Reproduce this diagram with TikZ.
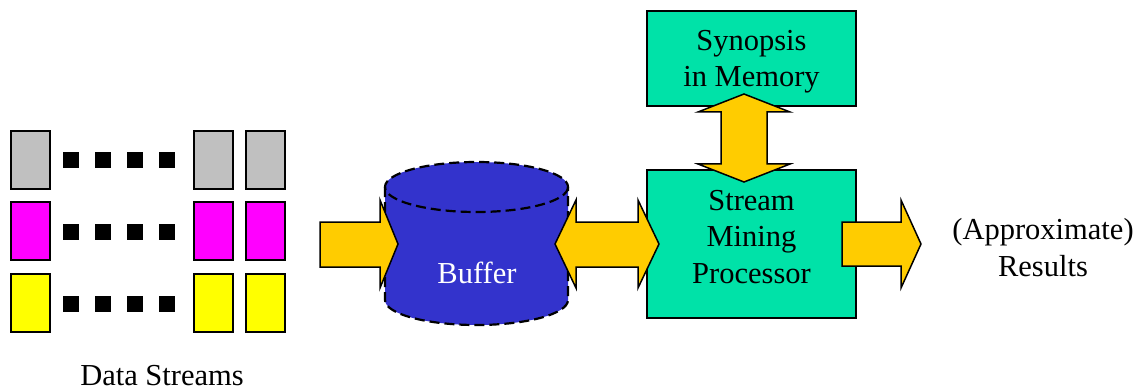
\documentclass[tikz,border=0pt]{standalone}
\usepackage{fontspec}
\setmainfont{Liberation Serif}
\definecolor{greenbox}{RGB}{0,226,168}
\definecolor{bufferblue}{RGB}{51,51,204}
\definecolor{arrowgold}{RGB}{255,204,0}
\definecolor{streamgray}{RGB}{192,192,192}
\definecolor{streampink}{RGB}{255,0,255}
\definecolor{streamyellow}{RGB}{255,255,0}
\tikzset{
  label text/.style={font=\fontsize{30.5}{36.5}\selectfont, align=center, inner sep=0pt, anchor=base},
  packet/.style={draw=black, line width=2pt, inner sep=0pt, minimum width=39pt, minimum height=58pt},
  gapdot/.style={fill=black, inner sep=0pt, minimum size=16pt},
  unitbox/.style={draw=black, line width=2pt, fill=greenbox, inner sep=0pt, minimum width=209pt},
  blockarrow/.style={draw=black, line width=1.5pt, fill=arrowgold, line join=miter},
  dashline/.style={draw=black, line width=2.2pt, dash pattern=on 10pt off 5pt}
}
\begin{document}
\begin{tikzpicture}[x=1pt, y=-1pt]
\useasboundingbox (0,0) rectangle (1147,390);

% incoming data streams: three rows of packets with gaps between
\foreach \row/\y/\col in {1/160/streamgray, 2/231/streampink, 3/303/streamyellow}{
  \node[packet, fill=\col] (p\row a) at (30.5,\y) {};
  \node[packet, fill=\col] (p\row b) at (213,\y) {};
  \node[packet, fill=\col] (p\row c) at (265.5,\y) {};
  \foreach \k/\x in {1/71, 2/103, 3/135, 4/167}{
    \node[gapdot] (d\row\k) at (\x,\y+0.5) {};
  }
}
\node[label text] (streams) at (162,385) {Data Streams};

% buffer drawn as a dashed cylinder (y axis points down, so arcs run the other way)
\fill[bufferblue] (385,187) -- (385,300) arc[start angle=180, end angle=0, x radius=91.5, y radius=25]
  -- (568,187) arc[start angle=0, end angle=-180, x radius=91.5, y radius=25] -- cycle;
\draw[dashline] (476.5,187) ellipse[x radius=91.5, y radius=25];
\draw[dashline] (385,187) -- (385,300) arc[start angle=180, end angle=0, x radius=91.5, y radius=25] -- (568,187);
\node[label text, text=white] (buffer) at (477,283) {Buffer};

% processing units
\node[unitbox, minimum height=95pt] (synopsis) at (751.5,58.5) {};
\node[unitbox, minimum height=148pt] (processor) at (751.5,244) {};
\node[label text] (synopsis text) at (751.5,87) {Synopsis\\in Memory};
\node[label text] (processor text) at (751.5,283) {Stream\\Mining\\Processor};

% results
\node[label text] (results) at (1043,276) {(Approximate)\\Results};

% block arrows
\draw[blockarrow] (320,222) -- (380,222) -- (380,200) -- (398,244) -- (380,288) -- (380,267) -- (320,267) -- cycle;
\draw[blockarrow] (555,244) -- (576,200) -- (576,222) -- (638,222) -- (638,200) -- (659,244)
  -- (638,288) -- (638,267) -- (576,267) -- (576,288) -- cycle;
\draw[blockarrow] (744,94) -- (790,112) -- (767,112) -- (767,164) -- (790,164) -- (744,182)
  -- (698,164) -- (721,164) -- (721,112) -- (698,112) -- cycle;
\draw[blockarrow] (842,222) -- (901,222) -- (901,200) -- (921,244) -- (901,288) -- (901,266) -- (842,266) -- cycle;
\end{tikzpicture}
\end{document}
